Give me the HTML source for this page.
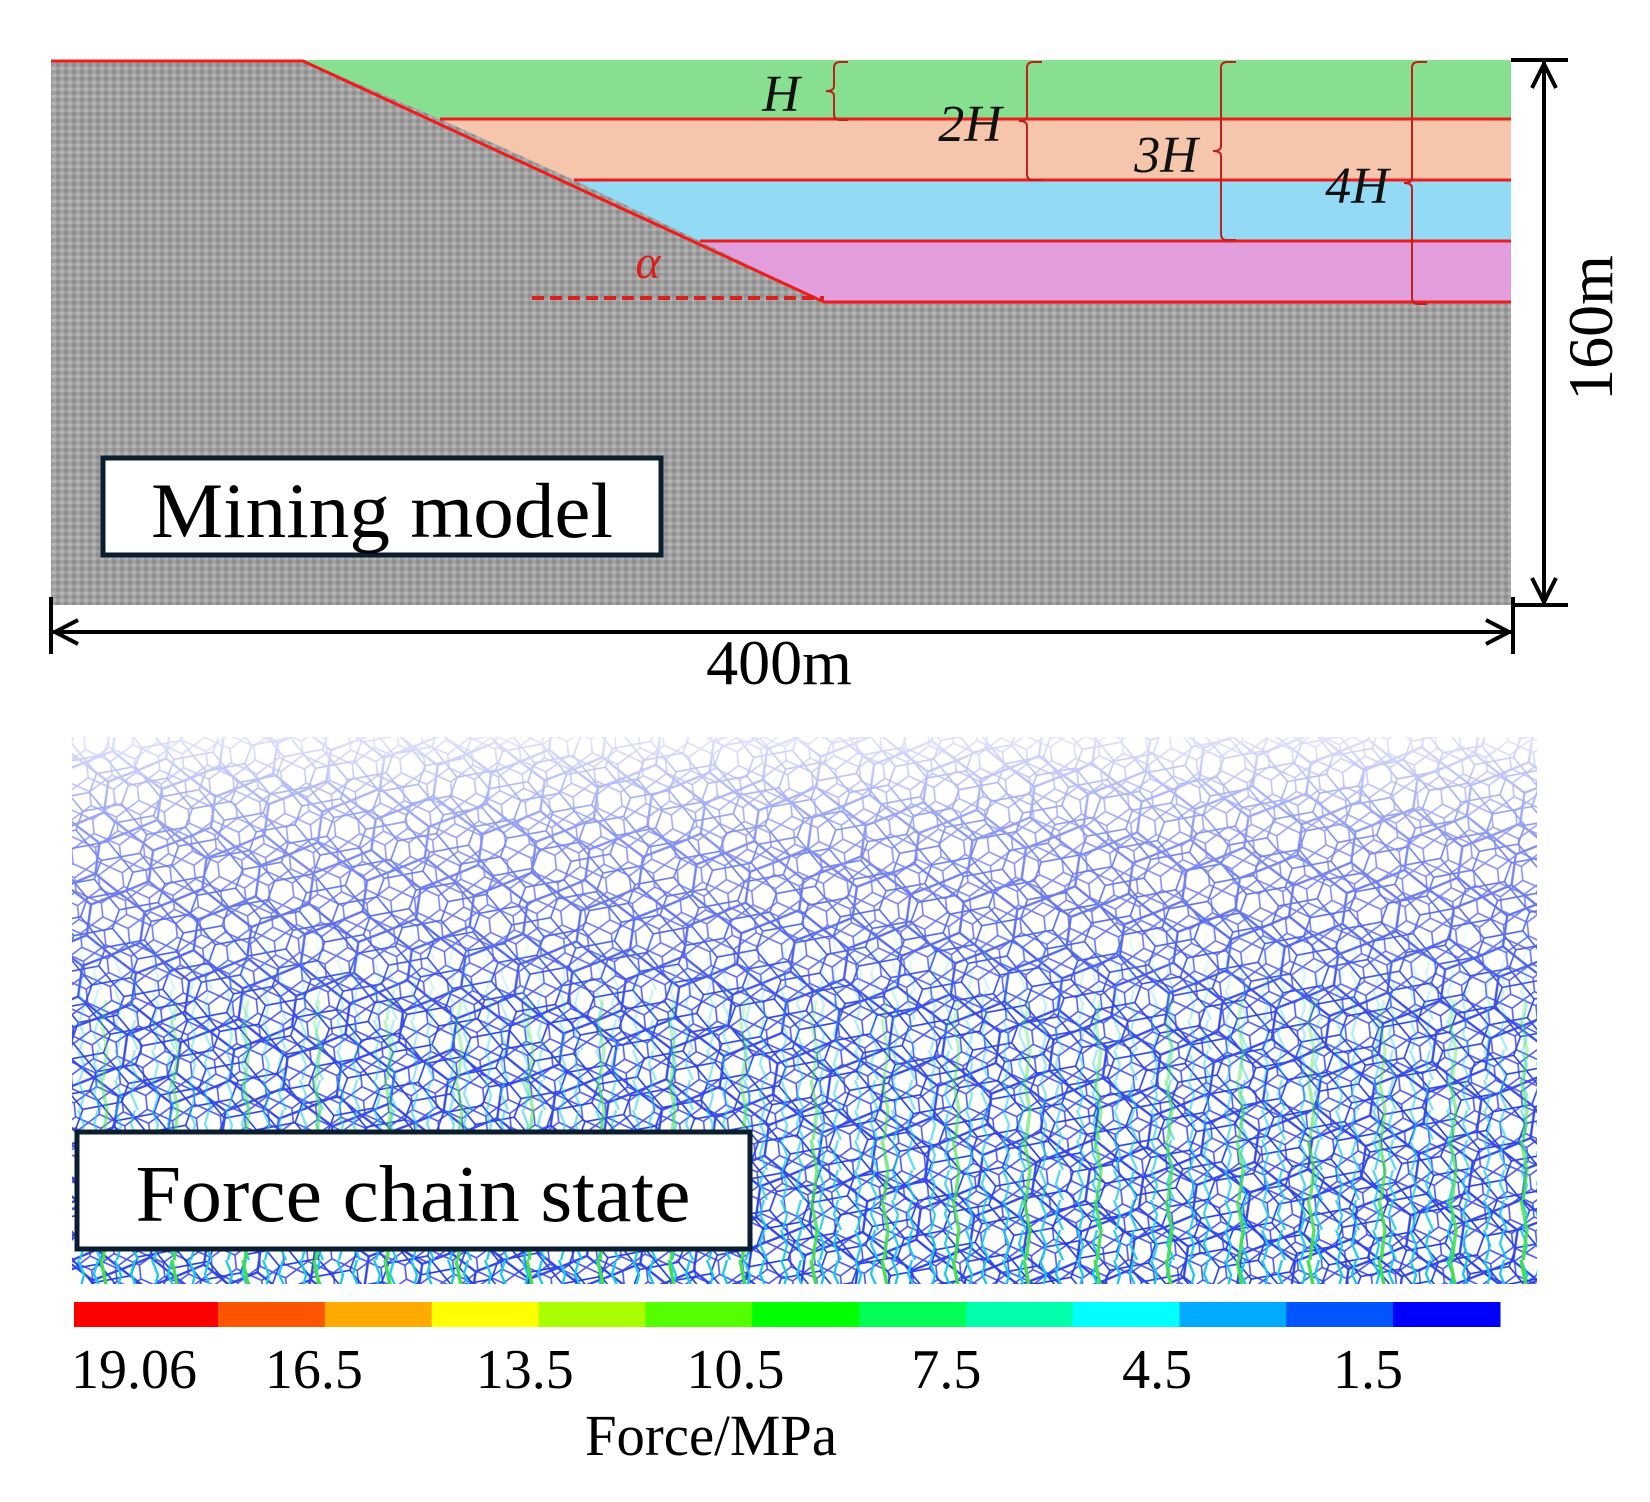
<!DOCTYPE html>
<html><head><meta charset="utf-8"><style>
html,body{margin:0;padding:0;background:#fff;}
svg{display:block;font-family:"Liberation Serif",serif;}
</style></head><body>
<svg width="1650" height="1502" viewBox="0 0 1650 1502">
<defs>
<pattern id="grain" width="8" height="7" patternUnits="userSpaceOnUse">
<rect width="8" height="7" fill="#a0a0a0"/>
<circle cx="2" cy="2" r="2" fill="#8c8c8c"/><circle cx="6" cy="5.5" r="2" fill="#b4b4b4"/>
</pattern>
<pattern id="hex1" width="54" height="62" patternUnits="userSpaceOnUse" patternTransform="rotate(8)">
<path d="M0 15 L27 0 L54 15 L54 46 L27 62 L0 46 Z M27 0 V-16 M27 62 V78" fill="none" stroke="#2f45e6" stroke-width="2.4"/>
</pattern>
<pattern id="hex2" width="24" height="28" patternUnits="userSpaceOnUse" patternTransform="translate(7,5) rotate(-6)">
<path d="M0 7 L12 0 L24 7 L24 21 L12 28 L0 21 Z" fill="none" stroke="#4a55ee" stroke-width="1.6"/>
</pattern>
<pattern id="hex3" width="34" height="40" patternUnits="userSpaceOnUse" patternTransform="translate(13,9) rotate(20)">
<path d="M0 10 L17 0 L34 10 L34 30 L17 40 L0 30 Z" fill="none" stroke="#1f3ae0" stroke-width="1.6"/>
</pattern>
<pattern id="cyan" width="37" height="30" patternUnits="userSpaceOnUse">
<path d="M4 0 L10 15 L6 30 M24 0 L20 14 L27 30" fill="none" stroke="#18c9ea" stroke-width="2.4"/>
</pattern>
<pattern id="green" width="71" height="60" patternUnits="userSpaceOnUse">
<path d="M30 0 L36 30 L32 60" fill="none" stroke="#3fe04a" stroke-width="3.5"/>
</pattern>
<linearGradient id="fade" x1="0" y1="0" x2="0" y2="1">
<stop offset="0" stop-color="#fff" stop-opacity="0.85"/>
<stop offset="0.2" stop-color="#fff" stop-opacity="0.4"/>
<stop offset="0.5" stop-color="#fff" stop-opacity="0.05"/>
<stop offset="1" stop-color="#fff" stop-opacity="0"/>
</linearGradient>
<linearGradient id="bottomMask" x1="0" y1="0" x2="0" y2="1">
<stop offset="0.3" stop-color="#fff" stop-opacity="0"/>
<stop offset="1" stop-color="#fff" stop-opacity="1"/>
</linearGradient>
<mask id="cyanMask"><rect x="72" y="737" width="1465" height="547" fill="url(#bottomMask)"/></mask>
</defs>

<!-- Mining model -->
<g>
<rect x="51" y="60" width="1460" height="545" fill="url(#grain)"/>
<polygon points="303,60 1511,60 1511,119 440,119" fill="#86e08f"/>
<polygon points="440,119 1511,119 1511,180 574,180" fill="#f5c6ab"/>
<polygon points="574,180 1511,180 1511,241 700,241" fill="#93daf5"/>
<polygon points="700,241 1511,241 1511,302 824,302" fill="#e29edc"/>
<g stroke="#f01c1c" stroke-width="3" fill="none">
<polyline points="51,61 303,61 824,302 1511,302"/>
<line x1="440" y1="119" x2="1511" y2="119"/>
<line x1="574" y1="180" x2="1511" y2="180"/>
<line x1="700" y1="241" x2="1511" y2="241"/>
</g>
<line x1="532" y1="298" x2="824" y2="298" stroke="#d8201c" stroke-width="4" stroke-dasharray="12,6"/>
<text x="648" y="278" font-size="48" font-style="italic" fill="#d8201c" text-anchor="middle">α</text>
<g stroke="#c0201c" stroke-width="2" fill="none">
<path d="M848 62 h-8 q-6 0 -6 6 v18 q0 5 -8 5 q8 0 8 5 v18 q0 6 6 6 h8"/>
<path d="M1042 62 h-9 q-6 0 -6 6 v48 q0 5 -8 5 q8 0 8 5 v48 q0 6 6 6 h9"/>
<path d="M1236 62 h-9 q-6 0 -6 6 v78 q0 5 -8 5 q8 0 8 5 v78 q0 6 6 6 h9"/>
<path d="M1427 62 h-9 q-6 0 -6 6 v110 q0 5 -8 5 q8 0 8 5 v110 q0 6 6 6 h9"/>
</g>
<g font-size="52" font-style="italic" fill="#111" text-anchor="middle">
<text x="781" y="111">H</text>
<text x="970" y="141">2H</text>
<text x="1166" y="172">3H</text>
<text x="1357" y="203">4H</text>
</g>
<rect x="103" y="458" width="558" height="97" fill="#fff" stroke="#0b1e2e" stroke-width="5"/>
<text x="382" y="537" font-size="78" text-anchor="middle" fill="#000" textLength="462" lengthAdjust="spacingAndGlyphs">Mining model</text>
</g>

<!-- dimensions -->
<g stroke="#000" stroke-width="4" fill="none">
<line x1="1511" y1="60" x2="1568" y2="60"/>
<line x1="1511" y1="605" x2="1568" y2="605"/>
<line x1="1544" y1="62" x2="1544" y2="603"/>
<path d="M1532 88 L1544 64 L1556 88"/>
<path d="M1532 578 L1544 602 L1556 578"/>
<line x1="51" y1="597" x2="51" y2="654"/>
<line x1="1513" y1="597" x2="1513" y2="654"/>
<line x1="53" y1="632" x2="1511" y2="632"/>
<path d="M78 620 L55 632 L78 644"/>
<path d="M1486 620 L1509 632 L1486 644"/>
</g>
<text x="779" y="684" font-size="64" text-anchor="middle">400m</text>
<text transform="translate(1612,328) rotate(-90)" font-size="64" text-anchor="middle">160m</text>

<!-- Force chain -->
<g>
<rect x="72" y="737" width="1465" height="547" fill="url(#hex2)"/>
<rect x="72" y="737" width="1465" height="547" fill="url(#hex3)"/>
<rect x="72" y="737" width="1465" height="547" fill="url(#hex1)"/>
<rect x="72" y="737" width="1465" height="547" fill="url(#cyan)" mask="url(#cyanMask)"/>
<rect x="72" y="1000" width="1465" height="284" fill="url(#green)" mask="url(#cyanMask)"/>
<rect x="72" y="737" width="1465" height="547" fill="url(#fade)"/>
</g>
<rect x="77" y="1132" width="673" height="117" fill="#fff" stroke="#0b1e2e" stroke-width="5"/>
<text x="413" y="1221" font-size="80" text-anchor="middle" textLength="555" lengthAdjust="spacingAndGlyphs">Force chain state</text>

<g id="colorbar"></g>
<text x="711" y="1455" font-size="58" text-anchor="middle" textLength="252" lengthAdjust="spacingAndGlyphs">Force/MPa</text>
</svg>
<script>
const barColors = ["#ff0000","#ff5500","#ffaa00","#ffff00","#aaff00","#55ff00","#00ff00","#00ff55","#00ffaa","#00ffff","#00aaff","#0055ff","#0000ff"];
const tickLabels = ["19.06","16.5","13.5","10.5","7.5","4.5","1.5"];
const tickValues = [19.06,16.5,13.5,10.5,7.5,4.5,1.5];
const NS="http://www.w3.org/2000/svg";
const g=document.getElementById('colorbar');
const x0=74,x1=1500,y=1302,h=25;
const firstW=144;
const segW=(x1-x0-firstW)/(barColors.length-1);
barColors.forEach((c,i)=>{
  const r=document.createElementNS(NS,'rect');
  const x=i===0?x0:x0+firstW+(i-1)*segW;
  r.setAttribute('x',x);r.setAttribute('y',y);
  r.setAttribute('width',(i===0?firstW:segW)+0.5);r.setAttribute('height',h);
  r.setAttribute('fill',c);
  
  
  g.appendChild(r);
});
function xOf(v){return 134+(19.06-v)/(19.06-1.5)*(1368-134);}
tickLabels.forEach((t,i)=>{
  const tx=document.createElementNS(NS,'text');
  tx.setAttribute('x',xOf(tickValues[i]));tx.setAttribute('y',1388);
  tx.setAttribute('font-size','56');tx.setAttribute('text-anchor','middle');
  tx.textContent=t;
  
  
  g.appendChild(tx);
});
</script>
</body></html>
